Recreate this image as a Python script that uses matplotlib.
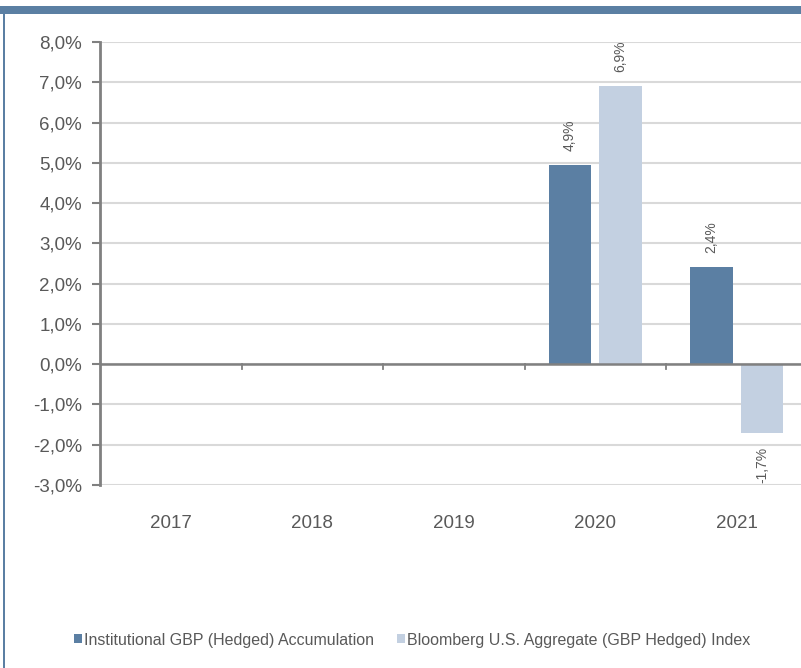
import matplotlib
matplotlib.use("Agg")
import matplotlib.pyplot as plt
from matplotlib.patches import Rectangle
from matplotlib.ticker import FuncFormatter
from matplotlib.transforms import blended_transform_factory
import numpy as np

plt.rcParams['font.family'] = ['Liberation Sans', 'DejaVu Sans']

years = ["2017", "2018", "2019", "2020", "2021"]
fund = [np.nan, np.nan, np.nan, 4.95, 2.41]
index = [np.nan, np.nan, np.nan, 6.9, -1.7]
fund_labels = ["", "", "", "4,9%", "2,4%"]
index_labels = ["", "", "", "6,9%", "-1,7%"]
series_names = ["Institutional GBP (Hedged) Accumulation",
                "Bloomberg U.S. Aggregate (GBP Hedged) Index"]
yticks = [-3, -2, -1, 0, 1, 2, 3, 4, 5, 6, 7, 8]

c_dark = "#5b7fa3"
c_light = "#c3d0e1"
txt = "#595959"

W, H = 801, 668
fig = plt.figure(figsize=(W/100, H/100), dpi=100)

# frame decorations
fig.add_artist(Rectangle((0, 1 - 14/H), 1, 8/H, transform=fig.transFigure,
                         facecolor=c_dark, edgecolor='none'))
fig.add_artist(Rectangle((3/W, 0), 2/W, 1 - 14/H, transform=fig.transFigure,
                         facecolor=c_dark, edgecolor='none'))

left, right = 100/W, 807.5/W
bottom, top = 1 - 485/H, 1 - 42/H
ax = fig.add_axes([left, bottom, right - left, top - bottom])

x = np.arange(len(years))
bw = 0.30
off = 0.18
b1 = ax.bar(x - off, fund, bw, color=c_dark, zorder=3, label=series_names[0])
b2 = ax.bar(x + off, index, bw, color=c_light, zorder=3, label=series_names[1])

for xs, vals, labs in ((x - off, fund, fund_labels), (x + off, index, index_labels)):
    for xi, v, lab in zip(xs, vals, labs):
        if lab:
            ax.text(xi, v + 0.35 if v >= 0 else v - 0.35, lab, rotation=90,
                    ha='center', va='bottom' if v >= 0 else 'top',
                    fontsize=10, color=txt)

ax.set_xlim(-0.5, len(years) - 0.5)
ax.set_ylim(-3, 8)
ax.set_yticks(yticks)
ax.yaxis.set_major_formatter(FuncFormatter(lambda v, p: f"{v:.1f}%".replace('.', ',')))
ax.tick_params(axis='y', labelsize=13.5, colors=txt, length=6, width=1.5,
               color='#808080', pad=7)
ax.grid(axis='y', color='#d9d9d9', linewidth=1.5, zorder=0)
ax.axhline(0, color='#808080', linewidth=1.8, zorder=4)

ax.set_xticks([])
for i in range(1, len(years)):
    ax.plot([i - 0.5, i - 0.5], [0, -0.13], color='#808080', lw=1.3,
            zorder=4, clip_on=False)
trans = blended_transform_factory(ax.transData, fig.transFigure)
for i, y in enumerate(years):
    ax.text(i, 1 - 524/H, y, ha='center', va='center', fontsize=13.5,
            color=txt, transform=trans)

for s in ['top', 'right', 'bottom']:
    ax.spines[s].set_visible(False)
ax.spines['left'].set_color('#808080')
ax.spines['left'].set_linewidth(2)
ax.set_facecolor('none')

fig.legend(handles=[b1, b2], labels=series_names, loc='center',
           bbox_to_anchor=(412/W, 1 - 640/H), ncol=2, frameon=False,
           fontsize=11.55, labelcolor=txt, handlelength=0.5, handleheight=0.5,
           handletextpad=0.12, columnspacing=1.4)

fig.savefig("out.png", dpi=100)
